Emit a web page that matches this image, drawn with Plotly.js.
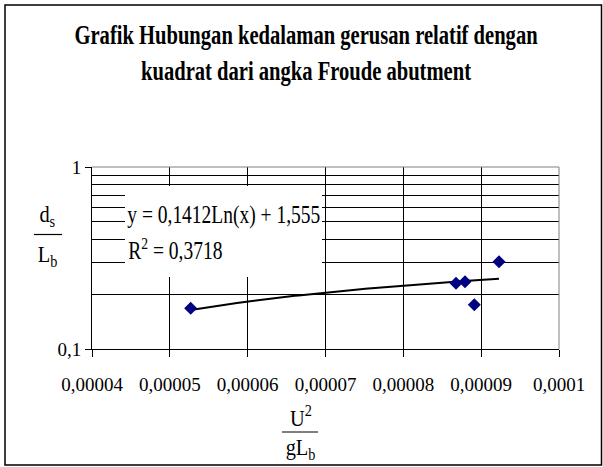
<!DOCTYPE html>
<html>
<head>
<meta charset="utf-8">
<script src="https://cdn.plot.ly/plotly-3.0.1.min.js"></script>
<style>
  html, body { margin: 0; padding: 0; background: #fff; }
  #chart { width: 603px; height: 467px; }
  .gtitle { transform-box: fill-box; transform-origin: center; transform: scaleX(0.735); }
  g.annotation[data-index="0"] text, g.annotation[data-index="1"] text {
    transform-box: fill-box; transform-origin: center; transform: scaleX(0.78);
  }
  g.annotation[data-index="2"] text, g.annotation[data-index="3"] text,
  g.annotation[data-index="4"] text, g.annotation[data-index="5"] text {
    transform-box: fill-box; transform-origin: center; transform: scaleX(0.85);
  }
</style>
</head>
<body>
<div id="chart"></div>
<script>
// ---- data ----
const froudeSq = [5.268e-5, 8.677e-5, 8.792e-5, 8.912e-5, 9.229e-5];   // U^2 / (g L_b)
const depthRatio = [0.1677, 0.2298, 0.2345, 0.1748, 0.3018];          // d_s / L_b
const trendA = 0.1412;   // y = a Ln(x) + b
const trendB = 1.555;
const rSquared = '0,3718';
const xTickVals = [0.00004, 0.00005, 0.00006, 0.00007, 0.00008, 0.00009, 0.0001];
const xTickText = ['0,00004', '0,00005', '0,00006', '0,00007', '0,00008', '0,00009', '0,0001'];
const yTickVals = [0.1, 1];
const yTickText = ['0,1', '1'];
const yMinorVals = [0.2, 0.3, 0.4, 0.5, 0.6, 0.7, 0.8, 0.9];

// trendline samples from the fitted equation over the data range
const xMin = Math.min(...froudeSq), xMax = Math.max(...froudeSq);
const trendX = [], trendY = [];
for (let i = 0; i <= 80; i++) {
  const x = xMin + (xMax - xMin) * i / 80;
  trendX.push(x);
  trendY.push(trendA * Math.log(x) + trendB);
}

// layout geometry (pixels -> paper)
const L = 92, T = 167, W = 467, H = 182, R = 603 - L - W, B = 467 - T - H;
const px = x => (x - L) / W;
const py = y => (T + H - y) / H;

const font = 'Liberation Serif, Times New Roman, serif';

const traces = [
  {
    x: trendX, y: trendY, type: 'scatter', mode: 'lines',
    line: { color: '#000000', width: 2 }, hoverinfo: 'skip', showlegend: false
  },
  {
    x: froudeSq, y: depthRatio, type: 'scatter', mode: 'markers',
    marker: { symbol: 'diamond', size: 10, color: '#000080', line: { width: 0 } },
    showlegend: false
  }
];

const layout = {
  width: 603, height: 467,
  margin: { l: L, r: R, t: T, b: B },
  paper_bgcolor: '#ffffff', plot_bgcolor: '#ffffff',
  font: { family: font, color: '#000', size: 19 },
  title: {
    text: 'Grafik Hubungan kedalaman gerusan relatif dengan<br>kuadrat dari angka Froude abutment',
    font: { family: font, size: 28, color: '#000', weight: 'bold' },
    x: 306 / 603, xanchor: 'center', xref: 'container',
    y: 1 - 44 / 467, yanchor: 'top', yref: 'container'
  },
  showlegend: false,
  xaxis: {
    type: 'linear', range: [0.00004, 0.0001],
    tickvals: xTickVals, ticktext: xTickText,
    ticks: 'outside', ticklen: 7, tickcolor: '#000', tickwidth: 1,
    ticklabelstandoff: 11,
    showgrid: true, gridcolor: '#000', gridwidth: 1,
    showline: true, linecolor: '#000', linewidth: 1,
    zeroline: false, fixedrange: true,
    tickfont: { family: font, size: 19, color: '#000' }
  },
  yaxis: {
    type: 'log', range: [-1, 0],
    tickvals: yTickVals, ticktext: yTickText,
    ticks: 'outside', ticklen: 6, tickcolor: '#000', tickwidth: 1,
    showgrid: true, gridcolor: '#000', gridwidth: 1,
    minor: { tickvals: yMinorVals, showgrid: true, gridcolor: '#000', gridwidth: 1, ticks: '' },
    showline: true, linecolor: '#000', linewidth: 1,
    zeroline: false, fixedrange: true,
    tickfont: { family: font, size: 19, color: '#000' }
  },
  shapes: [
    // trendline label box
    { type: 'rect', xref: 'paper', yref: 'paper', x0: px(125), x1: px(322), y0: py(277), y1: py(186),
      fillcolor: '#ffffff', line: { width: 0 }, layer: 'above' },
    // plot area border (top, right)
    { type: 'line', xref: 'paper', yref: 'paper', x0: 0, x1: 1, y0: 1, y1: 1, line: { color: '#808080', width: 1 } },
    { type: 'line', xref: 'paper', yref: 'paper', x0: 1, x1: 1, y0: 0, y1: 1, line: { color: '#808080', width: 1 } },
    // y title fraction bar
    { type: 'line', xref: 'paper', yref: 'paper', x0: px(34), x1: px(62), y0: py(234.5), y1: py(234.5), line: { color: '#000', width: 1.2 } },
    // x title fraction bar
    { type: 'line', xref: 'paper', yref: 'paper', x0: px(282), x1: px(318), y0: py(432), y1: py(432), line: { color: '#000', width: 1.2 } },
    // outer chart border
    { type: 'rect', xref: 'paper', yref: 'paper', x0: px(5), x1: px(601.5), y0: py(465), y1: py(5),
      line: { color: '#000', width: 1.5 }, fillcolor: 'rgba(0,0,0,0)' }
  ],
  annotations: [
    { text: 'y = 0,1412Ln(x) + 1,555', xref: 'paper', yref: 'paper', x: px(223.5), y: py(215),
      xanchor: 'center', yanchor: 'middle', showarrow: false, font: { family: font, size: 25, color: '#000' } },
    { text: 'R<sup>2</sup> = ' + rSquared, xref: 'paper', yref: 'paper', x: px(175), y: py(249),
      xanchor: 'center', yanchor: 'middle', showarrow: false, font: { family: font, size: 25, color: '#000' } },
    { text: 'd<sub>s</sub>', xref: 'paper', yref: 'paper', x: px(47), y: py(216),
      xanchor: 'center', yanchor: 'middle', showarrow: false, font: { family: font, size: 24, color: '#000' } },
    { text: 'L<sub>b</sub>', xref: 'paper', yref: 'paper', x: px(47), y: py(256),
      xanchor: 'center', yanchor: 'middle', showarrow: false, font: { family: font, size: 24, color: '#000' } },
    { text: 'U<sup>2</sup>', xref: 'paper', yref: 'paper', x: px(300.5), y: py(416),
      xanchor: 'center', yanchor: 'middle', showarrow: false, font: { family: font, size: 24, color: '#000' } },
    { text: 'gL<sub>b</sub>', xref: 'paper', yref: 'paper', x: px(300), y: py(449),
      xanchor: 'center', yanchor: 'middle', showarrow: false, font: { family: font, size: 24, color: '#000' } }
  ]
};

Plotly.newPlot('chart', traces, layout, { displayModeBar: false, staticPlot: true });
</script>
</body>
</html>
